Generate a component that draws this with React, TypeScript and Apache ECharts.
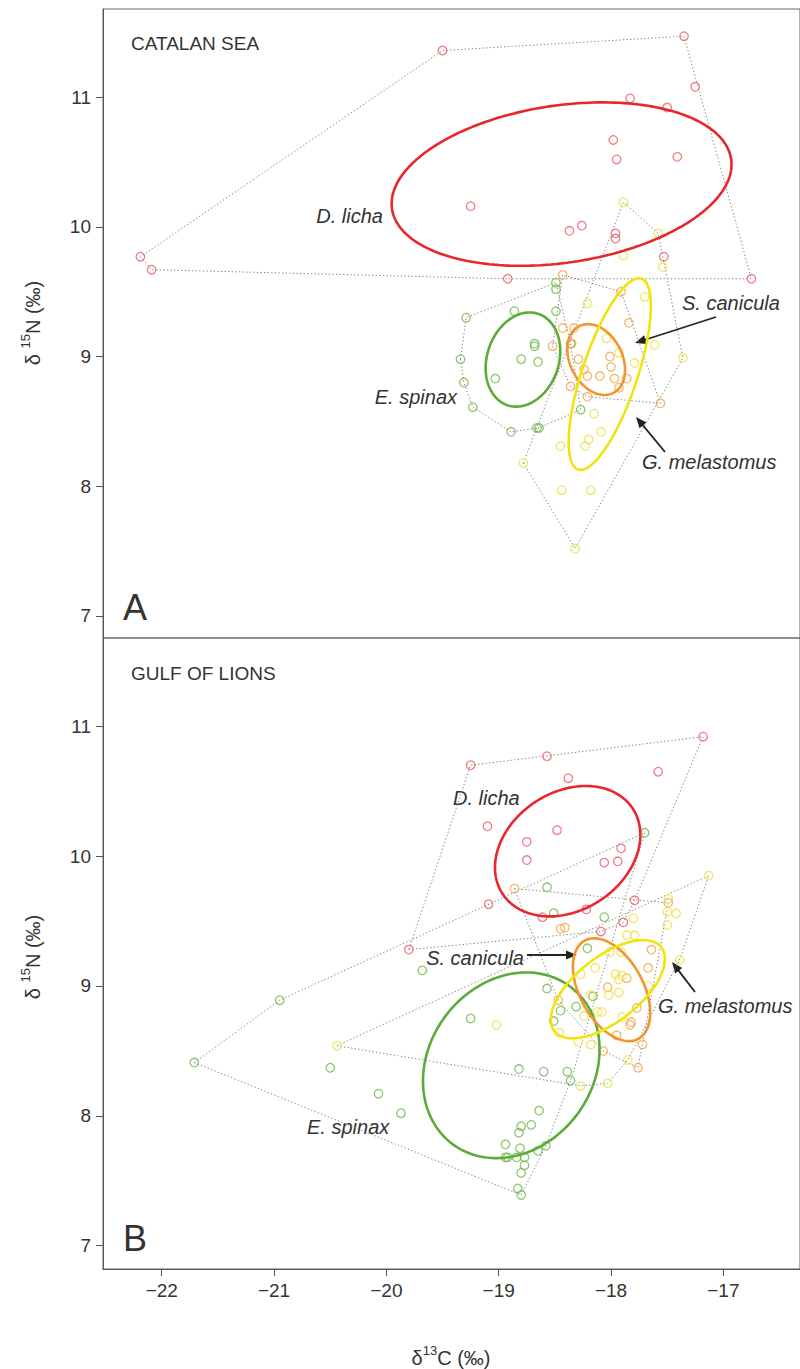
import React, { useEffect, useRef } from "react";
import * as echarts from "echarts";

type P = [number, number];

const xTicks = [-22, -21, -20, -19, -18, -17];
const yTicks = [7, 8, 9, 10, 11];

// ---------- CATALAN SEA (A) ----------
const catalanLicha: P[] = [
  [-19.5, 11.36], [-22.19, 9.77], [-22.09, 9.67], [-17.35, 11.47], [-17.25, 11.08],
  [-17.83, 10.99], [-17.5, 10.92], [-17.98, 10.67], [-17.95, 10.52], [-17.41, 10.54],
  [-19.25, 10.16], [-18.37, 9.97], [-18.26, 10.01], [-17.96, 9.95], [-17.96, 9.91],
  [-17.53, 9.77], [-16.75, 9.6], [-18.92, 9.6],
];
const catalanSpinax: P[] = [
  [-18.49, 9.57], [-18.49, 9.52], [-18.49, 9.35], [-19.29, 9.3], [-18.86, 9.35],
  [-19.34, 8.98], [-19.31, 8.8], [-19.23, 8.61], [-18.89, 8.42], [-18.66, 8.45],
  [-18.64, 8.45], [-18.27, 8.59], [-18.36, 9.1], [-18.68, 9.08], [-18.68, 9.1],
  [-18.8, 8.98], [-18.65, 8.96], [-19.03, 8.83],
];
const catalanCanicula: P[] = [
  [-18.43, 9.63], [-17.91, 9.5], [-17.84, 9.26], [-18.43, 9.22], [-18.33, 9.22],
  [-18.52, 9.08], [-18.35, 9.1], [-18.29, 8.98], [-18.01, 9.0], [-18.0, 8.92],
  [-18.24, 8.9], [-18.21, 8.85], [-18.1, 8.85], [-17.97, 8.83], [-17.86, 8.83],
  [-17.93, 8.76], [-18.36, 8.77], [-18.21, 8.69], [-17.56, 8.64],
];
const catalanMelastomus: P[] = [
  [-17.89, 10.19], [-17.58, 9.95], [-17.89, 9.78], [-17.54, 9.69], [-18.21, 9.41],
  [-17.7, 9.46], [-18.04, 9.14], [-17.61, 9.09], [-17.79, 8.95], [-17.36, 8.99],
  [-18.15, 8.56], [-18.09, 8.42], [-18.2, 8.36], [-18.23, 8.31], [-18.45, 8.31],
  [-18.78, 8.18], [-18.44, 7.97], [-18.18, 7.97], [-18.32, 7.52], [-17.93, 9.03],
];

// ---------- GULF OF LIONS (B) ----------
const gulfLicha: P[] = [
  [-19.25, 10.7], [-18.57, 10.77], [-17.18, 10.92], [-17.58, 10.65], [-18.38, 10.6],
  [-19.1, 10.23], [-18.48, 10.2], [-18.75, 10.11], [-18.75, 9.97], [-17.91, 10.06],
  [-18.06, 9.95], [-17.94, 9.96], [-19.09, 9.63], [-17.79, 9.66], [-18.61, 9.53],
  [-18.22, 9.59], [-17.89, 9.49], [-18.09, 9.42], [-19.8, 9.28],
];
const gulfSpinax: P[] = [
  [-17.7, 10.18], [-18.57, 9.76], [-18.51, 9.56], [-18.06, 9.53], [-18.21, 9.29],
  [-19.68, 9.12], [-20.95, 8.89], [-21.71, 8.41], [-20.5, 8.37], [-20.07, 8.17],
  [-19.87, 8.02], [-19.25, 8.75], [-18.57, 8.98], [-18.45, 8.81], [-18.51, 8.73],
  [-18.31, 8.84], [-18.82, 8.36], [-18.6, 8.34], [-18.39, 8.34], [-18.36, 8.27],
  [-18.64, 8.04], [-18.71, 7.93], [-18.8, 7.92], [-18.82, 7.87], [-18.94, 7.78],
  [-18.81, 7.75], [-18.94, 7.68], [-18.92, 7.68], [-18.84, 7.68], [-18.77, 7.68],
  [-18.77, 7.62], [-18.8, 7.56], [-18.65, 7.73], [-18.58, 7.77], [-18.83, 7.44],
  [-18.8, 7.39], [-18.16, 8.92],
];
const gulfCanicula: P[] = [
  [-18.86, 9.75], [-18.45, 9.44], [-18.41, 9.45], [-17.49, 9.64], [-17.64, 9.28],
  [-17.67, 9.14], [-17.86, 9.06], [-18.03, 8.99], [-18.47, 8.89], [-17.77, 8.83],
  [-17.82, 8.72], [-17.83, 8.7], [-17.95, 8.62], [-18.07, 8.5], [-17.72, 8.55],
  [-17.76, 8.37],
];
const gulfMelastomus: P[] = [
  [-17.13, 9.85], [-17.49, 9.67], [-17.5, 9.57], [-17.42, 9.56], [-17.5, 9.47],
  [-17.8, 9.52], [-17.86, 9.39], [-17.79, 9.39], [-17.39, 9.2], [-18.01, 9.26],
  [-17.91, 9.26], [-18.14, 9.14], [-18.27, 9.09], [-17.96, 9.09], [-17.9, 9.08],
  [-17.93, 9.05], [-18.02, 8.93], [-17.93, 8.95], [-18.18, 8.93], [-17.67, 9.0],
  [-18.12, 8.8], [-18.08, 8.8], [-18.24, 8.77], [-17.9, 8.76], [-18.46, 8.64],
  [-18.29, 8.57], [-18.18, 8.55], [-17.85, 8.43], [-18.27, 8.23], [-18.03, 8.25],
  [-19.02, 8.7], [-20.44, 8.54],
];

// Standard ellipses: [centre x, centre y, sd x, sd y, correlation]
const catalanLichaSEA = [-18.44, 10.33, 1.513, 0.63, 0.24];
const catalanSpinaxSEA = [-18.784, 8.977, 0.332, 0.363, 0.18];
const catalanCaniculaSEA = [-18.132, 8.977, 0.257, 0.273, -0.29];
const catalanMelastomusSEA = [-18.011, 8.865, 0.366, 0.739, 0.71];
const gulfLichaSEA = [-18.386, 10.038, 0.647, 0.502, 0.25];
const gulfSpinaxSEA = [-18.888, 8.389, 0.786, 0.715, 0.17];
const gulfCaniculaSEA = [-17.995, 8.971, 0.344, 0.396, -0.45];
const gulfMelastomusSEA = [-18.028, 8.975, 0.508, 0.378, 0.62];

const LINE = { licha: "#E8272D", spinax: "#5BAB38", canicula: "#F2952C", melastomus: "#F1E30E" };
const PT = { licha: "#EB5C64", spinax: "#6FB84C", canicula: "#F4A446", melastomus: "#EDE043" };

const FONT = "'Liberation Sans', Arial, Helvetica, sans-serif";
const TXT = "#333";

function convexHull(pts: P[]): P[] {
  const p = pts.slice().sort((a, b) => a[0] - b[0] || a[1] - b[1]);
  const cross = (o: P, a: P, b: P) => (a[0] - o[0]) * (b[1] - o[1]) - (a[1] - o[1]) * (b[0] - o[0]);
  const lower: P[] = [];
  for (const q of p) {
    while (lower.length >= 2 && cross(lower[lower.length - 2], lower[lower.length - 1], q) <= 0) lower.pop();
    lower.push(q);
  }
  const upper: P[] = [];
  for (let i = p.length - 1; i >= 0; i--) {
    const q = p[i];
    while (upper.length >= 2 && cross(upper[upper.length - 2], upper[upper.length - 1], q) <= 0) upper.pop();
    upper.push(q);
  }
  upper.pop();
  lower.pop();
  const h = lower.concat(upper);
  h.push(h[0]);
  return h;
}

function ellipsePoints(e: number[]): P[] {
  const [cx, cy, sx, sy, r] = e;
  const out: P[] = [];
  const n = 200;
  for (let i = 0; i <= n; i++) {
    const t = (2 * Math.PI * i) / n;
    const c = Math.cos(t), s = Math.sin(t);
    out.push([cx + sx * c, cy + r * sy * c + sy * Math.sqrt(1 - r * r) * s]);
  }
  return out;
}

function panelSeries(grid: number, sets: { pts: P[]; sea: number[]; key: keyof typeof LINE }[]) {
  const series: any[] = [];
  for (const s of sets) {
    series.push({
      type: "line", xAxisIndex: grid, yAxisIndex: grid, data: convexHull(s.pts),
      symbol: "none", silent: true, z: 1,
      lineStyle: { color: "#808080", width: 1, type: [1.3, 2.3] },
    });
  }
  for (const s of sets) {
    series.push({
      type: "scatter", xAxisIndex: grid, yAxisIndex: grid, data: s.pts,
      symbol: "circle", symbolSize: 8.5, silent: true, z: 2,
      itemStyle: { color: "rgba(0,0,0,0)", borderColor: PT[s.key], borderWidth: 1.3 },
    });
  }
  for (const s of sets) {
    series.push({
      type: "line", xAxisIndex: grid, yAxisIndex: grid, data: ellipsePoints(s.sea),
      symbol: "none", silent: true, z: 3,
      lineStyle: { color: LINE[s.key], width: 2.6 },
    });
  }
  return series;
}

function label(text: string, x: number, y: number, align: string, size = 20, italic = true) {
  return {
    type: "text", x, y, silent: true,
    style: {
      text, fill: TXT, font: `${italic ? "italic " : ""}${size}px ${FONT}`,
      align, verticalAlign: "middle",
    },
  };
}

function arrow(x1: number, y1: number, x2: number, y2: number) {
  const dx = x2 - x1, dy = y2 - y1;
  const L = Math.sqrt(dx * dx + dy * dy);
  const ux = dx / L, uy = dy / L;
  const hl = 11, hw = 4.5;
  const bx = x2 - ux * hl, by = y2 - uy * hl;
  return [
    { type: "line", silent: true, shape: { x1, y1, x2: bx + ux * 2, y2: by + uy * 2 }, style: { stroke: "#222", lineWidth: 1.8 } },
    {
      type: "polygon", silent: true,
      shape: { points: [[x2, y2], [bx - uy * hw, by + ux * hw], [bx + uy * hw, by - ux * hw]] },
      style: { fill: "#222" },
    },
  ];
}

const axisTitleRich = {
  m: { fontSize: 20, fontFamily: FONT, fill: TXT, color: TXT, lineHeight: 24, verticalAlign: "bottom" },
  s: { fontSize: 13, fontFamily: FONT, fill: TXT, color: TXT, lineHeight: 24, verticalAlign: "top" },
};

const X_MIN = -22.523;
const X_MAX = -22.523 + 700 / 112.8;

export default function App() {
  const ref = useRef<HTMLDivElement>(null);
  useEffect(() => {
    if (!ref.current) return;
    const chart = echarts.init(ref.current, undefined, { renderer: "svg" });
    const xBase = (grid: number, show: boolean) => ({
      type: "value", gridIndex: grid, min: X_MIN, max: X_MAX,
      axisLine: { show, onZero: false, lineStyle: { color: "#555", width: 1 } },
      axisTick: { show, length: 7, customValues: xTicks, lineStyle: { color: "#555" } },
      axisLabel: {
        show, customValues: xTicks, margin: 12, fontSize: 19, color: TXT, fontFamily: FONT,
        formatter: (v: number) => (v < 0 ? "\u2212" : "") + Math.abs(v),
      },
      splitLine: { show: false },
    });
    const yBase = (grid: number, min: number) => ({
      type: "value", gridIndex: grid, min, max: 11.68,
      axisLine: { show: true, onZero: false, lineStyle: { color: "#555", width: 1 } },
      axisTick: { show: true, length: 7, customValues: yTicks, lineStyle: { color: "#555" } },
      axisLabel: { customValues: yTicks, margin: 12, fontSize: 19, color: TXT, fontFamily: FONT },
      splitLine: { show: false },
    });
    const graphic: any[] = [
      label("CATALAN SEA", 131, 43, "left", 19, false),
      label("GULF OF LIONS", 131, 673, "left", 19, false),
      label("A", 123, 607, "left", 36, false),
      label("B", 123, 1238, "left", 36, false),
      label("D. licha", 383, 216, "right"),
      label("E. spinax", 457, 397, "right"),
      label("S. canicula", 682, 303, "left"),
      label("G. melastomus", 642, 462, "left"),
      ...arrow(716, 317, 635, 343),
      ...arrow(665, 452, 636, 417),
      label("D. licha", 453, 798, "left"),
      label("S. canicula", 524, 958, "right"),
      ...arrow(527, 955, 577, 955),
      label("G. melastomus", 658, 1006, "left"),
      ...arrow(695, 992, 672, 962),
      label("E. spinax", 307, 1127, "left"),
      {
        type: "text", x: 31, y: 323, rotation: Math.PI / 2, silent: true,
        style: { text: "{m|δ }{s|15}{m|N (‰)}", rich: axisTitleRich, align: "center", verticalAlign: "middle", fill: TXT },
      },
      {
        type: "text", x: 31, y: 957, rotation: Math.PI / 2, silent: true,
        style: { text: "{m|δ }{s|15}{m|N (‰)}", rich: axisTitleRich, align: "center", verticalAlign: "middle", fill: TXT },
      },
      {
        type: "text", x: 451, y: 1356, silent: true,
        style: { text: "{m|δ}{s|13}{m|C (‰)}", rich: axisTitleRich, align: "center", verticalAlign: "middle", fill: TXT },
      },
    ];
    chart.setOption({
      animation: false,
      backgroundColor: "#fff",
      grid: [
        { left: 103, top: 9, width: 700, height: 629, show: true, borderColor: "#666", borderWidth: 1, backgroundColor: "transparent" },
        { left: 103, top: 638, width: 700, height: 631, show: true, borderColor: "#666", borderWidth: 1, backgroundColor: "transparent" },
      ],
      xAxis: [xBase(0, false), xBase(1, true)],
      yAxis: [yBase(0, 6.83), yBase(1, 6.82)],
      series: [
        ...panelSeries(0, [
          { pts: catalanLicha, sea: catalanLichaSEA, key: "licha" },
          { pts: catalanSpinax, sea: catalanSpinaxSEA, key: "spinax" },
          { pts: catalanCanicula, sea: catalanCaniculaSEA, key: "canicula" },
          { pts: catalanMelastomus, sea: catalanMelastomusSEA, key: "melastomus" },
        ]),
        ...panelSeries(1, [
          { pts: gulfLicha, sea: gulfLichaSEA, key: "licha" },
          { pts: gulfSpinax, sea: gulfSpinaxSEA, key: "spinax" },
          { pts: gulfCanicula, sea: gulfCaniculaSEA, key: "canicula" },
          { pts: gulfMelastomus, sea: gulfMelastomusSEA, key: "melastomus" },
        ]),
      ],
      graphic,
    });
    return () => chart.dispose();
  }, []);
  return <div ref={ref} style={{ position: "absolute", left: 0, top: 0, width: 800, height: 1369 }} />;
}
